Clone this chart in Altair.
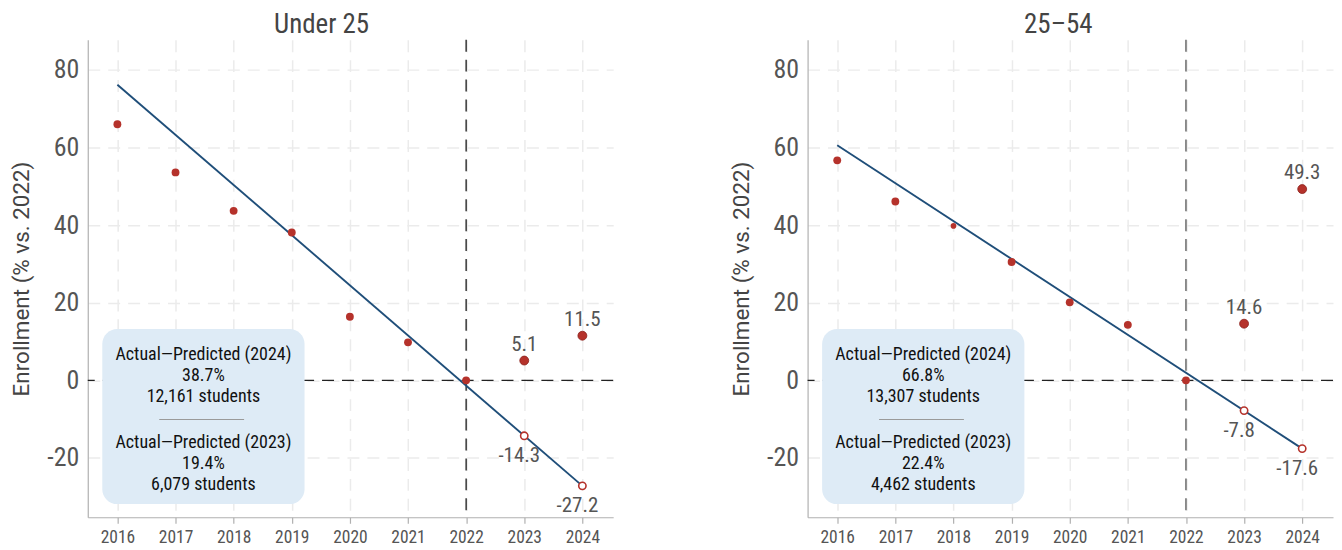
import altair as alt
import pandas as pd

# ---------------- data ----------------
years = [2016, 2017, 2018, 2019, 2020, 2021, 2022, 2023, 2024]
panel_names = ["Under 25", "25–54"]

under25_actual = [66.0, 53.6, 43.7, 38.1, 16.4, 9.8, 0.0, 5.1, 11.5]
age2554_actual = [56.7, 46.1, 39.8, 30.5, 20.1, 14.3, 0.0, 14.6, 49.3]

pred_years = [2023, 2024]
under25_pred = [-14.3, -27.2]
age2554_pred = [-7.8, -17.6]

trend_years = [2016, 2024]
under25_trend = [76.2, -27.2]
age2554_trend = [60.6, -17.6]

under25_box_2024 = ["Actual—Predicted (2024)", "38.7%", "12,161 students"]
under25_box_2023 = ["Actual—Predicted (2023)", "19.4%", "6,079 students"]
age2554_box_2024 = ["Actual—Predicted (2024)", "66.8%", "13,307 students"]
age2554_box_2023 = ["Actual—Predicted (2023)", "22.4%", "4,462 students"]

y_ticks = [-20, 0, 20, 40, 60, 80]
ref_year = 2022
y_title = "Enrollment (% vs. 2022)"

# ---------------- style ----------------
COND = "Roboto Condensed"
RED = "#b5322b"
NAVY = "#1f4e79"
BOX = "#deebf6"
W, H = 527, 479
X_DOMAIN = [2015.49, 2024.53]
Y_DOMAIN = [-35.3, 87.8]

xs = alt.Scale(domain=X_DOMAIN, nice=False, zero=False)
ys = alt.Scale(domain=Y_DOMAIN, nice=False, zero=False)

x_axis = alt.Axis(values=years, labelExpr="toString(datum.value)", title=None,
                  grid=True, gridDash=[12, 8], gridColor="#ebebeb", gridWidth=1.5,
                  ticks=True, tickSize=6, tickColor="#b0b0b0", tickWidth=1.2,
                  domainColor="#b0b0b0", domainWidth=1.2,
                  labelFont=COND, labelFontSize=17.5, labelColor="#555555", labelPadding=5)
y_axis = alt.Axis(values=y_ticks, labelExpr="toString(datum.value)", title=y_title,
                  grid=True, gridDash=[12, 8], gridColor="#ebebeb", gridWidth=1.5,
                  ticks=False, domainColor="#b0b0b0", domainWidth=1.2,
                  labelFont=COND, labelFontSize=26, labelColor="#555555", labelPadding=9,
                  titleFont="Roboto", titleFontSize=22.5, titleFontWeight="normal",
                  titleColor="#444444", titlePadding=13)


def X(field):
    return alt.X(f"{field}:Q", scale=xs, axis=x_axis)


def Y(field):
    return alt.Y(f"{field}:Q", scale=ys, axis=y_axis)


def panel(name, actual, pred, trend, box24, box23, title_dx, small_2018, vcolor):
    act = pd.DataFrame({"year": years, "value": actual})
    act["label"] = [f"{v:.1f}" for v in actual]
    prd = pd.DataFrame({"year": pred_years, "value": pred})
    prd["label"] = [f"{v:.1f}" for v in pred]
    trd = pd.DataFrame({"year": trend_years, "value": trend})

    # annotation box (data coordinates); text y is the first line of each block
    box = pd.DataFrame({"x0": [2015.74], "x1": [2019.22], "y0": [13.2], "y1": [-31.9]})
    sep = pd.DataFrame({"x0": [2016.72], "x1": [2018.18], "y0": [-10.1]})
    txt = pd.DataFrame({"x": [2017.48, 2017.48], "y": [6.6, -16.1],
                        "t": ["\n".join(box24), "\n".join(box23)]})

    hline = alt.Chart(act).mark_rule(color="#222222", strokeDash=[12, 8], strokeWidth=1.2).encode(
        y=alt.Y("zero:Q", scale=ys, axis=y_axis)).transform_calculate(zero="0").transform_filter("datum.year == 2016")
    vline = alt.Chart(act).mark_rule(color=vcolor, strokeDash=[12, 8], strokeWidth=1.3).encode(
        x=X("year")).transform_filter(f"datum.year == {ref_year}")

    rect = alt.Chart(box).mark_rect(fill=BOX, cornerRadius=15).encode(
        x=X("x0"), x2="x1", y=Y("y0"), y2="y1")
    rule = alt.Chart(sep).mark_rule(color="#9a9a9a", strokeWidth=1).encode(
        x=X("x0"), x2="x1", y=Y("y0"))
    text = alt.Chart(txt).mark_text(font=COND, fontSize=18, color="#111111", lineBreak="\n",
                                    lineHeight=21, align="center", baseline="middle").encode(
        x=X("x"), y=Y("y"), text="t:N")

    line = alt.Chart(trd).mark_line(color=NAVY, strokeWidth=1.9).encode(x=X("year"), y=Y("value"))

    small_size = 32 if small_2018 else 62
    small = alt.Chart(act).mark_point(filled=True, color=RED, opacity=1).encode(
        x=X("year"), y=Y("value"),
        size=alt.condition("datum.year == 2018", alt.value(small_size), alt.value(62))
    ).transform_filter("datum.year < 2023")
    big = alt.Chart(act).mark_point(filled=True, color=RED, opacity=1, size=80,
                                    stroke="#8a1f1a", strokeWidth=0.8).encode(
        x=X("year"), y=Y("value")).transform_filter("datum.year >= 2023")
    openp = alt.Chart(prd).mark_point(filled=False, fill="white", color=RED, opacity=1,
                                      size=54, strokeWidth=1.6).encode(x=X("year"), y=Y("value"))

    lab_act = alt.Chart(act).mark_text(font=COND, fontSize=21, color="#555555",
                                       baseline="bottom", dy=-6).encode(
        x=X("year"), y=Y("value"), text="label:N").transform_filter("datum.year >= 2023")
    lab_prd = alt.Chart(prd).mark_text(font=COND, fontSize=21, color="#555555",
                                       baseline="top", dy=9, dx=-5).encode(
        x=X("year"), y=Y("value"), text="label:N")

    return alt.layer(hline, vline, rect, rule, text, line, small, big, openp, lab_act, lab_prd).properties(
        width=W, height=H,
        title=alt.TitleParams(name, font=COND, fontSize=27, color="#444444", fontWeight="normal",
                              anchor="middle", dx=title_dx, offset=0))


left = panel(panel_names[0], under25_actual, under25_pred, under25_trend,
             under25_box_2024, under25_box_2023, -29, False, "#1a1a1a")
right = panel(panel_names[1], age2554_actual, age2554_pred, age2554_trend,
              age2554_box_2024, age2554_box_2023, -12, True, "#555555")

chart = alt.hconcat(left, right, spacing=116).properties(
    padding={"left": 2, "top": 2, "right": 0, "bottom": 0}
).configure_view(stroke=None)

chart.save("out.html", embed_options={"renderer": "svg", "actions": False})
